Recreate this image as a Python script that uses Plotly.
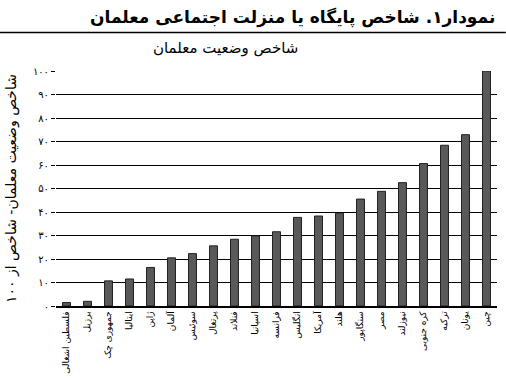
import plotly.graph_objects as go

countries = ["فلسطین اشغالی", "برزیل", "جمهوری چک", "ایتالیا", "ژاپن", "آلمان", "سوئیس",
             "پرتغال", "فنلاند", "اسپانیا", "فرانسه", "انگلیس", "آمریکا", "هلند", "سنگاپور",
             "مصر", "نیوزلند", "کره جنوبی", "ترکیه", "یونان", "چین"]
values = [1.5, 2.0, 10.7, 11.5, 16.4, 20.5, 22.3, 25.6, 28.4, 29.8, 31.6, 37.7, 38.3,
          39.5, 45.5, 48.8, 52.5, 60.6, 68.4, 72.9, 100]
tick_vals = [0, 10, 20, 30, 40, 50, 60, 70, 80, 90, 100]
tick_text = ["۰", "۱۰", "۲۰", "۳۰", "۴۰", "۵۰", "۶۰", "۷۰", "۸۰", "۹۰", "۱۰۰"]

title_text = "نمودار۱. شاخص پایگاه یا منزلت اجتماعی معلمان"
subtitle_text = "شاخص وضعیت معلمان"
ytitle_text = "شاخص وضعیت معلمان- شاخص از ۱۰۰"

FONT = "DejaVu Sans"

fig = go.Figure(go.Bar(
    x=countries, y=values,
    marker=dict(color="#595959", line=dict(color="#222222", width=1)),
))

fig.update_layout(
    width=506, height=383,
    margin=dict(l=56, r=9, t=71, b=68),
    paper_bgcolor="white", plot_bgcolor="white",
    bargap=0.62,
    showlegend=False,
    font=dict(family=FONT, color="black"),
    xaxis=dict(
        tickangle=-90, tickfont=dict(size=9, family=FONT),
        showline=True, linecolor="black", linewidth=1.5,
        showgrid=False, ticks="",
    ),
    yaxis=dict(
        range=[0, 100], tickvals=tick_vals, ticktext=tick_text,
        tickfont=dict(size=10, family=FONT),
        showgrid=True, gridcolor="black", gridwidth=1,
        ticks="outside", ticklen=4, tickcolor="black",
        zeroline=False,
        title=dict(text=ytitle_text, font=dict(size=14, family=FONT), standoff=12),
    ),
    shapes=[dict(type="line", xref="paper", yref="paper", x0=-0.13, x1=1.02,
                 y0=1.0 + (71 - 31) / 244, y1=1.0 + (71 - 31) / 244,
                 line=dict(color="black", width=1.5))],
    annotations=[
        dict(text="<b>" + title_text + "</b>", xref="paper", yref="paper",
             x=(292 - 56) / 441, y=1.0 + (71 - 15) / 244, xanchor="center", yanchor="middle",
             showarrow=False, font=dict(size=17, family=FONT, color="black")),
        dict(text=subtitle_text, xref="paper", yref="paper",
             x=(225 - 56) / 441, y=1.0 + (71 - 47) / 244, xanchor="center", yanchor="middle",
             showarrow=False, font=dict(size=15, family=FONT, color="black")),
    ],
)

fig.write_html("out.html")
